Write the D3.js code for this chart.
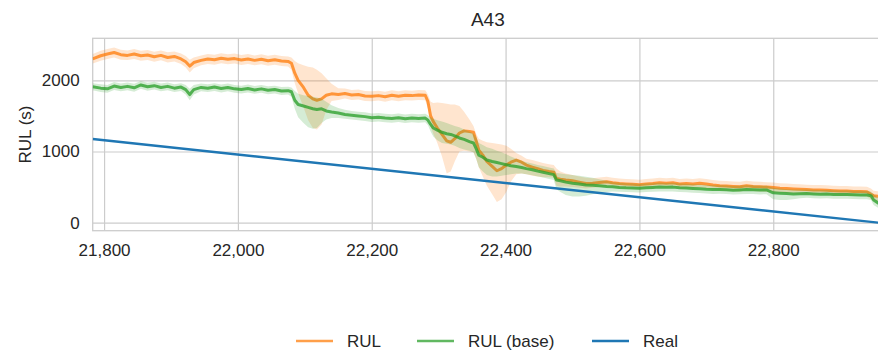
<!DOCTYPE html>
<html>
<head>
<meta charset="utf-8">
<script src="https://cdn.jsdelivr.net/npm/d3@7"></script>
<style>
  body { margin: 0; background: #fff; }
  svg { display: block; }
  text { font-family: "Liberation Sans", Arial, Helvetica, sans-serif; fill: #262626; }
</style>
</head>
<body>
<svg id="chart" width="878" height="353"></svg>
<script>
/* ── data ──────────────────────────────────────────────────────────── */

const title = 'A43';
const yLabel = 'RUL (s)';
const seriesNames = ['RUL', 'RUL (base)', 'Real'];

// sample times (s)
const times = [
  21783, 21795, 21805, 21815, 21825, 21835, 21845, 21855, 21865, 21875,
  21885, 21895, 21905, 21915, 21922, 21928, 21934, 21945, 21955, 21965,
  21975, 21985, 21995, 22005, 22015, 22025, 22035, 22045, 22055, 22065,
  22075, 22080, 22085, 22090, 22098, 22105, 22112, 22118, 22125, 22132,
  22140, 22150, 22160, 22170, 22180, 22190, 22200, 22210, 22220, 22230,
  22240, 22250, 22260, 22270, 22280, 22284, 22288, 22292, 22298, 22305,
  22312, 22318, 22324, 22331, 22338, 22346, 22352, 22356, 22360, 22366,
  22372, 22380, 22387, 22394, 22401, 22408, 22416, 22424, 22431, 22440,
  22448, 22456, 22465, 22472, 22476, 22482, 22490, 22500, 22510, 22520,
  22530, 22540, 22551, 22560, 22570, 22580, 22590, 22600, 22610, 22620,
  22630, 22640, 22650, 22660, 22670, 22680, 22690, 22700, 22710, 22720,
  22730, 22740, 22750, 22760, 22770, 22780, 22790, 22800, 22810, 22820,
  22830, 22840, 22850, 22860, 22870, 22880, 22890, 22900, 22910, 22920,
  22930, 22940, 22946, 22950, 22958
];

// RUL (orange) mean and band
const rul = [
  2300, 2345, 2370, 2390, 2360, 2350, 2370, 2345, 2355, 2330,
  2350, 2320, 2335, 2300, 2260, 2200, 2250, 2280, 2300, 2290,
  2310, 2295, 2305, 2285, 2300, 2280, 2295, 2275, 2290, 2270,
  2265, 2240, 2100, 2000, 1900, 1790, 1740, 1720, 1740, 1790,
  1810, 1800, 1815, 1795, 1800, 1780, 1775, 1785, 1770, 1790,
  1775, 1790, 1785, 1795, 1790, 1700, 1500, 1420, 1330, 1240,
  1150, 1130, 1180, 1260, 1290, 1280, 1270, 1150, 1020, 950,
  860, 790, 730, 760, 810, 850, 880, 850, 810, 780,
  760, 735, 720, 710, 620, 610, 600, 590, 570, 550,
  555, 565, 575, 560, 550, 545, 540, 535, 545, 550,
  560, 555, 560, 545, 550, 545, 555, 545, 530, 520,
  515, 510, 505, 520, 510, 505, 500, 495, 485, 480,
  475, 470, 465, 460, 460, 455, 450, 445, 445, 440,
  440, 435, 400, 380, 370
];
const rulLow = [
  2235, 2275, 2300, 2320, 2290, 2285, 2300, 2275, 2285, 2260,
  2280, 2250, 2265, 2230, 2180, 2110, 2170, 2210, 2230, 2220,
  2240, 2225, 2235, 2215, 2230, 2210, 2225, 2205, 2220, 2200,
  2195, 2150, 1960, 1820, 1620, 1440, 1330, 1310, 1380, 1580,
  1710, 1725, 1745, 1725, 1730, 1710, 1705, 1715, 1700, 1720,
  1705, 1720, 1715, 1725, 1720, 1600, 1350, 1250, 1120, 930,
  690, 720, 860, 1000, 1010, 1000, 990, 900, 780, 650,
  520, 400, 290, 330, 430, 580, 680, 690, 680, 660,
  650, 640, 640, 630, 520, 510, 510, 500, 490, 480,
  490, 500, 510, 495, 485, 480, 475, 470, 480, 485,
  495, 490, 495, 480, 485, 480, 490, 480, 465, 455,
  450, 445, 440, 455, 445, 440, 435, 425, 420, 415,
  410, 405, 400, 395, 395, 390, 385, 380, 380, 375,
  375, 370, 330, 310, 300
];
const rulHigh = [
  2370, 2415, 2440, 2460, 2430, 2420, 2440, 2415, 2425, 2400,
  2420, 2395, 2405, 2375, 2340, 2290, 2320, 2350, 2370, 2360,
  2380, 2365, 2375, 2355, 2370, 2350, 2365, 2345, 2360, 2340,
  2335, 2320, 2270, 2240, 2210, 2190, 2180, 2150, 2100, 2030,
  1950, 1890, 1885, 1865, 1870, 1850, 1845, 1855, 1840, 1860,
  1845, 1860, 1855, 1865, 1860, 1800, 1700, 1680, 1690, 1680,
  1670, 1660, 1660, 1640, 1560, 1450, 1360, 1250, 1180, 1150,
  1130, 1120, 1110, 1100, 1080, 1040, 980, 940, 900, 880,
  860, 840, 820, 810, 760, 720, 690, 670, 650, 630,
  625, 635, 645, 630, 620, 615, 610, 605, 615, 620,
  630, 625, 630, 615, 620, 615, 625, 615, 600, 590,
  585, 580, 575, 590, 580, 575, 570, 565, 555, 550,
  545, 540, 535, 530, 530, 525, 520, 515, 515, 510,
  510, 505, 480, 450, 440
];

// RUL (base) (green) mean and band
const base = [
  1910, 1890, 1880, 1920, 1900, 1915, 1895, 1935, 1910, 1925,
  1900, 1915, 1890, 1905, 1870, 1800, 1870, 1900, 1890, 1905,
  1885, 1900, 1880, 1870, 1885, 1865, 1880, 1860, 1870, 1850,
  1855, 1840, 1720, 1660, 1640, 1620, 1600, 1590, 1600, 1570,
  1555, 1540, 1520, 1510, 1500, 1490, 1475, 1480, 1470, 1465,
  1475, 1460, 1470, 1465, 1470, 1440, 1380, 1330, 1300, 1270,
  1250, 1240, 1220, 1190, 1170, 1140, 1120, 1040, 950, 920,
  880, 860, 845, 830, 815, 800, 790, 775, 760, 745,
  725, 710, 690, 675, 600, 590, 570, 555, 545, 530,
  525, 520, 510, 505, 495, 490, 488, 485, 490, 495,
  500, 498, 500, 490, 488, 482, 478, 470, 465, 468,
  462, 455, 460, 465, 462, 458, 460, 420, 415, 410,
  405, 408, 410, 405, 400, 402, 398, 395, 395, 392,
  390, 388, 380, 320, 270
];
const baseLow = [
  1860, 1835, 1825, 1865, 1845, 1860, 1840, 1880, 1855, 1870,
  1845, 1860, 1835, 1850, 1800, 1720, 1800, 1845, 1835, 1850,
  1830, 1845, 1825, 1815, 1830, 1810, 1825, 1805, 1815, 1795,
  1800, 1770, 1600, 1480, 1400, 1340, 1320, 1330, 1400, 1450,
  1470, 1470, 1460, 1450, 1440, 1430, 1415, 1420, 1410, 1405,
  1415, 1400, 1410, 1405, 1410, 1370, 1280, 1210, 1160, 1120,
  1110, 1100, 1080, 1050, 1030, 1010, 990, 900, 780, 720,
  670, 650, 650, 660, 670, 680, 690, 690, 680, 665,
  650, 635, 615, 600, 470, 430, 390, 370, 370, 380,
  400, 420, 430, 440, 435, 430, 428, 425, 430, 435,
  440, 438, 440, 430, 428, 422, 418, 410, 405, 408,
  402, 395, 400, 405, 402, 398, 400, 330, 320, 320,
  330, 345, 350, 345, 340, 342, 338, 335, 335, 332,
  330, 328, 320, 250, 200
];
const baseHigh = [
  1960, 1945, 1935, 1975, 1955, 1970, 1950, 1990, 1965, 1980,
  1955, 1970, 1945, 1960, 1935, 1880, 1935, 1955, 1945, 1960,
  1940, 1955, 1935, 1925, 1940, 1920, 1935, 1915, 1925, 1905,
  1910, 1900, 1850, 1810, 1790, 1780, 1770, 1760, 1740, 1700,
  1650, 1610, 1585, 1570, 1560, 1550, 1535, 1540, 1530, 1525,
  1535, 1520, 1530, 1525, 1530, 1510, 1480, 1460, 1440, 1420,
  1400, 1380, 1360, 1340, 1310, 1280, 1250, 1200, 1120, 1090,
  1060, 1040, 1010, 990, 960, 930, 900, 870, 850, 830,
  810, 795, 775, 760, 700, 690, 680, 670, 660, 645,
  630, 610, 590, 570, 560, 555, 550, 545, 550, 555,
  560, 558, 560, 550, 548, 542, 538, 530, 525, 528,
  522, 515, 520, 525, 522, 518, 520, 490, 480, 470,
  465, 465, 468, 462, 458, 460, 456, 453, 453, 450,
  448, 446, 440, 400, 340
];

// Real RUL (blue), straight line
const realTimes = [21783, 22964];
const realValues = [1175, -6];

/* ── layout ────────────────────────────────────────────────────────── */

const W = 878, H = 353;
const plot = { left: 92.7, right: 883, top: 38.3, bottom: 230.7 };

const colors = { rul: '#ff7f0e', base: '#2ca02c', real: '#1f77b4' };
const gridColor = '#cccccc';

const svg = d3.select('#chart');

const x = d3.scaleLinear().domain([21783, 22964]).range([plot.left, plot.right]);
const y = d3.scaleLinear().domain([-112, 2590]).range([plot.bottom, plot.top]);

// clip path for the plot area
svg.append('defs').append('clipPath').attr('id', 'clip')
  .append('rect')
  .attr('x', plot.left).attr('y', plot.top)
  .attr('width', plot.right - plot.left).attr('height', plot.bottom - plot.top);

/* ── grid + axes ───────────────────────────────────────────────────── */

const xAxis = svg.append('g')
  .attr('transform', `translate(0,${plot.bottom})`)
  .call(d3.axisBottom(x).ticks(6).tickFormat(d3.format(','))
    .tickSizeInner(-(plot.bottom - plot.top)).tickSizeOuter(0).tickPadding(13));

const yAxis = svg.append('g')
  .attr('transform', `translate(${plot.left},0)`)
  .call(d3.axisLeft(y).tickValues([0, 1000, 2000]).tickFormat(d3.format('d'))
    .tickSizeInner(-(plot.right - plot.left)).tickSizeOuter(0).tickPadding(13));

[xAxis, yAxis].forEach(g => {
  g.select('.domain').remove();
  g.selectAll('.tick line').attr('stroke', gridColor).attr('stroke-width', 1.2);
  g.selectAll('.tick text')
    .attr('font-size', 17)
    .attr('fill', '#262626')
    .style('font-family', '"Liberation Sans", Arial, sans-serif');
});

// spines
svg.append('rect')
  .attr('x', plot.left).attr('y', plot.top)
  .attr('width', plot.right - plot.left).attr('height', plot.bottom - plot.top)
  .attr('fill', 'none')
  .attr('stroke', gridColor)
  .attr('stroke-width', 1.3);

/* ── series ────────────────────────────────────────────────────────── */

const gData = svg.append('g').attr('clip-path', 'url(#clip)');

function band(lo, hi) {
  return d3.area()
    .x((d, i) => x(times[i]))
    .y0((d, i) => y(lo[i]))
    .y1((d, i) => y(hi[i]))(times);
}

function trace(values) {
  return d3.line()
    .x((d, i) => x(times[i]))
    .y((d, i) => y(values[i]))(times);
}

gData.append('path')
  .attr('d', band(rulLow, rulHigh))
  .attr('fill', colors.rul).attr('fill-opacity', 0.2);

gData.append('path')
  .attr('d', trace(rul))
  .attr('fill', 'none')
  .attr('stroke', colors.rul).attr('stroke-opacity', 0.78)
  .attr('stroke-width', 3).attr('stroke-linejoin', 'round');

gData.append('path')
  .attr('d', band(baseLow, baseHigh))
  .attr('fill', colors.base).attr('fill-opacity', 0.2);

gData.append('path')
  .attr('d', trace(base))
  .attr('fill', 'none')
  .attr('stroke', colors.base).attr('stroke-opacity', 0.78)
  .attr('stroke-width', 3).attr('stroke-linejoin', 'round');

gData.append('path')
  .datum(realTimes.map((t, i) => [t, realValues[i]]))
  .attr('d', d3.line().x(d => x(d[0])).y(d => y(d[1])))
  .attr('fill', 'none')
  .attr('stroke', colors.real)
  .attr('stroke-width', 2.4);

/* ── labels ────────────────────────────────────────────────────────── */

svg.append('text')
  .attr('x', (plot.left + plot.right) / 2).attr('y', 26)
  .attr('text-anchor', 'middle')
  .attr('font-size', 19)
  .text(title);

svg.append('text')
  .attr('transform', `translate(31,${(plot.top + plot.bottom) / 2}) rotate(-90)`)
  .attr('text-anchor', 'middle')
  .attr('font-size', 17)
  .text(yLabel);

/* ── legend ────────────────────────────────────────────────────────── */

const legendItems = [
  { name: seriesNames[0], color: colors.rul, opacity: 0.75, x: 296 },
  { name: seriesNames[1], color: colors.base, opacity: 0.75, x: 417 },
  { name: seriesNames[2], color: colors.real, opacity: 1, x: 592 }
];

const legend = svg.append('g').attr('transform', 'translate(0,341)');
legendItems.forEach(it => {
  legend.append('line')
    .attr('x1', it.x).attr('x2', it.x + 37)
    .attr('stroke', it.color).attr('stroke-opacity', it.opacity)
    .attr('stroke-width', 2.6);
  legend.append('text')
    .attr('x', it.x + 51).attr('y', 0).attr('dy', '0.35em')
    .attr('font-size', 17)
    .text(it.name);
});
</script>
</body>
</html>
